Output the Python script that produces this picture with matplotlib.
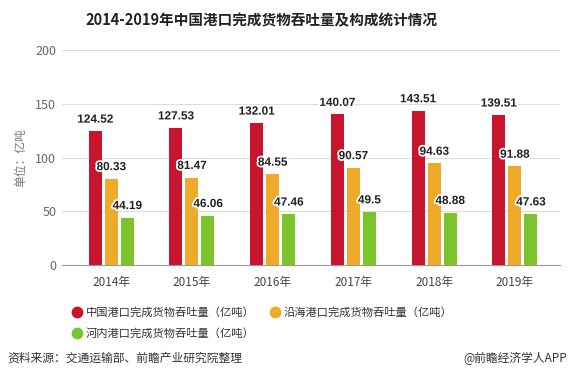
import matplotlib
matplotlib.use("Agg")
import numpy as np
import matplotlib.pyplot as plt
import matplotlib.patheffects as pe
from matplotlib.lines import Line2D

plt.rcParams['font.family'] = ['Noto Sans CJK SC', 'DejaVu Sans']

years = ['2014年', '2015年', '2016年', '2017年', '2018年', '2019年']
total = [124.52, 127.53, 132.01, 140.07, 143.51, 139.51]
coastal = [80.33, 81.47, 84.55, 90.57, 94.63, 91.88]
inland = [44.19, 46.06, 47.46, 49.5, 48.88, 47.63]
series_names = ['中国港口完成货物吞吐量（亿吨）', '沿海港口完成货物吞吐量（亿吨）', '河内港口完成货物吞吐量（亿吨）']
colors = ['#c8142c', '#f0aa2a', '#7cc42c']

fig = plt.figure(figsize=(5.72, 3.82), dpi=100)
ax = fig.add_axes([0.108, 0.306, 0.871, 0.563])

x = np.arange(len(years))
w = 0.161
off = 0.198
for i, vals in enumerate([total, coastal, inland]):
    pos = x + (i - 1) * off
    ax.bar(pos, vals, width=w, color=colors[i], zorder=3)
    for px, v in zip(pos, vals):
        ax.annotate(f'{v:g}', (px, v), xytext=(0, 4), textcoords='offset points',
                    ha='center', va='bottom', fontsize=8.5, fontweight='bold', color='#222222',
                    family='Liberation Sans', zorder=5,
                    path_effects=[pe.withStroke(linewidth=2.5, foreground='white')])

ax.set_xlim(-0.613, 5.56)
ax.set_ylim(0, 200)
ax.set_yticks([0, 50, 100, 150, 200])
ax.set_xticks(x)
ax.set_xticklabels(years)
ax.grid(axis='y', color='#dddddd', linewidth=0.8, zorder=0)
for s in ['top', 'right', 'left']:
    ax.spines[s].set_visible(False)
ax.spines['bottom'].set_color('#999999')
ax.tick_params(axis='y', length=0, pad=4, labelsize=9, labelcolor='#666666')
ax.tick_params(axis='x', length=0, pad=8, labelsize=8.5, labelcolor='#444444')
ax.set_ylabel('单位：亿吨', fontsize=8.5, color='#777777', labelpad=6)

fig.text(261 / 572, 1 - 20 / 382, '2014-2019年中国港口完成货物吞吐量及构成统计情况',
         ha='center', va='center', fontsize=10.5, fontweight='bold', color='#222222')

# legend
leg_pos = [(77, 312), (275, 312), (77, 333)]
for (lx, ly), name, c in zip(leg_pos, series_names, colors):
    fig.add_artist(Line2D([lx / 572], [1 - ly / 382], marker='o', markersize=7.5,
                          color=c, linestyle='none', transform=fig.transFigure))
    fig.text((lx + 9) / 572, 1 - ly / 382, name, ha='left', va='center',
             fontsize=8.1, color='#333333')

fig.text(7 / 572, 1 - 358 / 382, '资料来源：交通运输部、前瞻产业研究院整理',
         ha='left', va='center', fontsize=8.5, color='#333333')
fig.text(567 / 572, 1 - 358 / 382, '@前瞻经济学人APP',
         ha='right', va='center', fontsize=8.5, color='#333333')

fig.savefig('out.png', dpi=100)
